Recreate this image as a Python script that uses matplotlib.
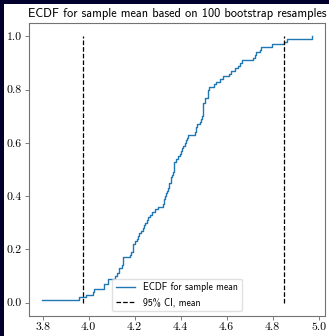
import matplotlib
matplotlib.use("Agg")
import matplotlib.pyplot as plt
import numpy as np
from matplotlib.patches import Rectangle

# sorted bootstrap sample means (read from the ECDF steps)
sample_means = [
    3.799, 3.958, 3.988, 4.019, 4.025, 4.066, 4.068, 4.084, 4.084, 4.115,
    4.124, 4.133, 4.133, 4.145, 4.150, 4.150, 4.150, 4.180, 4.185, 4.194,
    4.194, 4.194, 4.203, 4.212, 4.216, 4.218, 4.226, 4.235, 4.240, 4.245,
    4.255, 4.260, 4.267, 4.274, 4.289, 4.303, 4.322, 4.326, 4.329, 4.332,
    4.336, 4.340, 4.344, 4.348, 4.351, 4.356, 4.360, 4.363, 4.366, 4.369,
    4.370, 4.371, 4.372, 4.380, 4.388, 4.395, 4.400, 4.405, 4.410, 4.420,
    4.425, 4.428, 4.430, 4.463, 4.467, 4.468, 4.470, 4.482, 4.487, 4.492,
    4.499, 4.499, 4.499, 4.499, 4.499, 4.507, 4.507, 4.517, 4.517, 4.517,
    4.521, 4.543, 4.553, 4.570, 4.582, 4.609, 4.620, 4.638, 4.650, 4.660,
    4.667, 4.713, 4.725, 4.729, 4.745, 4.751, 4.798, 4.848, 4.863, 4.969,
]
ci_bounds = [3.975, 4.85]
x_ticks = [3.8, 4.0, 4.2, 4.4, 4.6, 4.8, 5.0]
y_ticks = [0.0, 0.2, 0.4, 0.6, 0.8, 1.0]
title = "ECDF for sample mean based on 100 bootstrap resamples"
legend_labels = ["ECDF for sample mean", "95% CI, mean"]

W, H = 329, 336
fig = plt.figure(figsize=(W / 100, H / 100), dpi=100, facecolor="white")
ax = fig.add_axes([29 / W, 1 - 316 / H, (325 - 29) / W, (316 - 23) / H])

x = np.sort(np.array(sample_means))
y = np.arange(1, len(x) + 1) / len(x)
ax.plot(x, y, drawstyle="steps-post", color="#1f77b4", lw=1.0,
        label=legend_labels[0])
ax.vlines(ci_bounds, 0, 1, colors="black", linestyles="--", lw=0.9,
          label=legend_labels[1])

ax.set_xticks(x_ticks)
ax.set_xticklabels([f"{t:.1f}" for t in x_ticks], fontfamily="cmr10", fontsize=8.5)
ax.set_yticks(y_ticks)
ax.set_yticklabels([f"{t:.1f}" for t in y_ticks], fontfamily="cmr10", fontsize=8.5)
ax.tick_params(length=3, width=0.6, color="0.4", pad=2)
for s in ax.spines.values():
    s.set_color("0.45")
    s.set_linewidth(0.8)

ax.set_title(title, fontfamily="cmss10", fontsize=8.9, pad=4)
leg = ax.legend(loc="lower center", prop={"family": "cmss10", "size": 7.0},
                fancybox=True, framealpha=0.8, edgecolor="0.85")

# dark page border visible at top and left of the reference
fig.patches.append(Rectangle((0, 0), 4 / W, 1, transform=fig.transFigure,
                             facecolor="#02012e", edgecolor="none", zorder=10))
fig.patches.append(Rectangle((0, 1 - 4 / H), 1, 4 / H, transform=fig.transFigure,
                             facecolor="#02012e", edgecolor="none", zorder=10))

fig.savefig("out.png", dpi=100, facecolor=fig.get_facecolor())
